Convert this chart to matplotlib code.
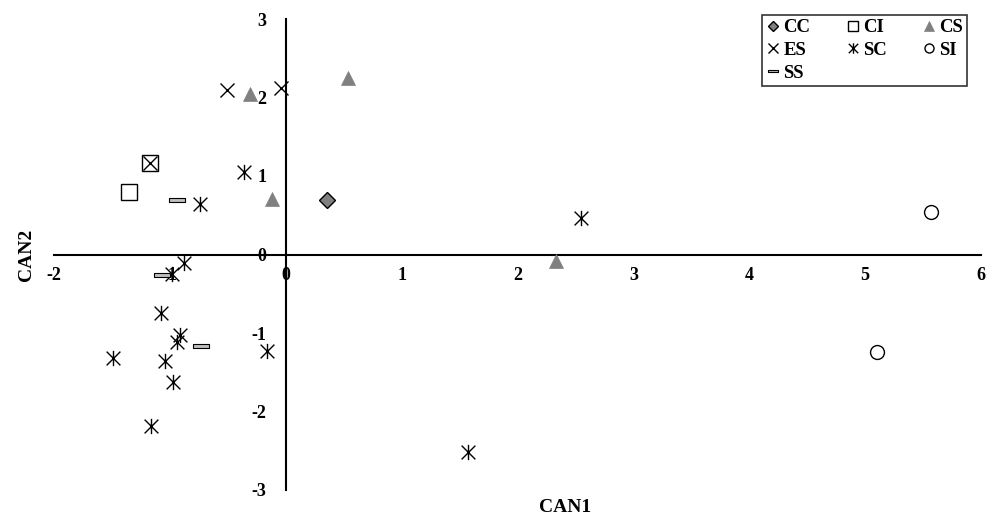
import matplotlib
matplotlib.use("Agg")
import matplotlib.pyplot as plt
from matplotlib.path import Path
from matplotlib.lines import Line2D

# ---- data ----
CC_x = [0.36]
CC_y = [0.69]
CI_x = [-1.35, -1.17]
CI_y = [0.79, 1.17]
CS_x = [-0.31, 0.54, -0.12, 2.33]
CS_y = [2.04, 2.25, 0.71, -0.08]
ES_x = [-0.51, -0.04, -1.17]
ES_y = [2.10, 2.12, 1.17]
SC_x = [-0.36, -0.74, -0.88, -0.98, -1.08, -0.91, -0.94, -1.49, -1.04, -0.97, -1.16, -0.16, 2.55, 1.57]
SC_y = [1.05, 0.64, -0.11, -0.25, -0.74, -1.02, -1.12, -1.32, -1.36, -1.63, -2.19, -1.23, 0.46, -2.52]
SI_x = [5.57, 5.10]
SI_y = [0.54, -1.24]
SS_x = [-0.94, -1.07, -0.73]
SS_y = [0.69, -0.26, -1.17]

x_ticks = [-2, -1, 0, 1, 2, 3, 4, 5, 6]
y_ticks = [-3, -2, -1, 0, 1, 2, 3]

plt.rcParams['font.family'] = ['Liberation Serif', 'DejaVu Serif']
plt.rcParams['font.weight'] = 'bold'

# custom markers
ast = Path([(-0.45, -0.45), (0.45, 0.45), (-0.45, 0.45), (0.45, -0.45), (0, -0.5), (0, 0.5)],
           [Path.MOVETO, Path.LINETO, Path.MOVETO, Path.LINETO, Path.MOVETO, Path.LINETO])
bar = Path([(-0.5, -0.12), (0.5, -0.12), (0.5, 0.12), (-0.5, 0.12), (-0.5, -0.12)],
           [Path.MOVETO, Path.LINETO, Path.LINETO, Path.LINETO, Path.CLOSEPOLY])

styles = {
    'CC': dict(marker='D', ms=8, mfc='#808080', mec='black', mew=1.0),
    'CI': dict(marker='s', ms=11, mfc='white', mec='black', mew=1.0),
    'CS': dict(marker='^', ms=10.5, mfc='#808080', mec='#808080', mew=0.5),
    'ES': dict(marker='x', ms=10, mfc='none', mec='black', mew=1.0),
    'SC': dict(marker=ast, ms=11, mfc='none', mec='black', mew=1.0),
    'SI': dict(marker='o', ms=10, mfc='white', mec='black', mew=1.0),
    'SS': dict(marker=bar, ms=12.2, mfc='#bfbfbf', mec='black', mew=0.8),
}
series = [('CC', CC_x, CC_y), ('CI', CI_x, CI_y), ('CS', CS_x, CS_y), ('ES', ES_x, ES_y),
          ('SC', SC_x, SC_y), ('SI', SI_x, SI_y), ('SS', SS_x, SS_y)]

fig = plt.figure(figsize=(9.95, 5.19), dpi=100)
ax = fig.add_axes([54/995, 29/519, 927/995, 471/519])

for name, xs, ys in series:
    ax.plot(xs, ys, linestyle='none', **styles[name], zorder=3)

ax.set_xlim(-2, 6)
ax.set_ylim(-3, 3)
ax.set_xticks(x_ticks)
ax.set_yticks(y_ticks)
ax.set_xticklabels([str(t) for t in x_ticks])
ax.set_yticklabels([str(t) for t in y_ticks])

for s in ['top', 'right']:
    ax.spines[s].set_visible(False)
ax.spines['left'].set_position(('data', 0))
ax.spines['bottom'].set_position(('data', 0))
for s in ['left', 'bottom']:
    ax.spines[s].set_linewidth(1.5)
    ax.spines[s].set_color('black')

ax.tick_params(axis='x', length=0, pad=9, labelsize=13)
ax.tick_params(axis='y', length=0, pad=14, labelsize=13)
for lbl in ax.get_xticklabels() + ax.get_yticklabels():
    lbl.set_fontweight('bold')

ax.set_xlabel('CAN1', fontsize=14, fontweight='bold', va='center')
ax.xaxis.set_label_coords(0.551, -0.038)
ax.set_ylabel('CAN2', fontsize=14, fontweight='bold', va='center')
ax.yaxis.set_label_coords(-0.030, 0.50)

# legend (row-wise order CC CI CS / ES SC SI / SS)
leg_sizes = {'CC': 5.5, 'CI': 7, 'CS': 7, 'ES': 7, 'SC': 7.5, 'SI': 6.5, 'SS': 7.5}
handle_map = {}
for name, _, _ in series:
    st = dict(styles[name])
    st['ms'] = leg_sizes[name]
    handle_map[name] = Line2D([], [], linestyle='none', **st)
order = ['CC', 'ES', 'SS', 'CI', 'SC', 'CS', 'SI']
leg = ax.legend([handle_map[n] for n in order], order, ncol=3, loc='upper right',
                bbox_to_anchor=(0.985, 1.0085), frameon=True, fancybox=False,
                edgecolor='black', handlelength=0.7, handletextpad=0.2,
                columnspacing=1.9, labelspacing=0.3, borderpad=0.22,
                borderaxespad=0.0, prop={'weight': 'bold', 'size': 13.5})
leg.get_frame().set_linewidth(1.2)
leg.set_zorder(5)

fig.savefig('out.png', dpi=100)
